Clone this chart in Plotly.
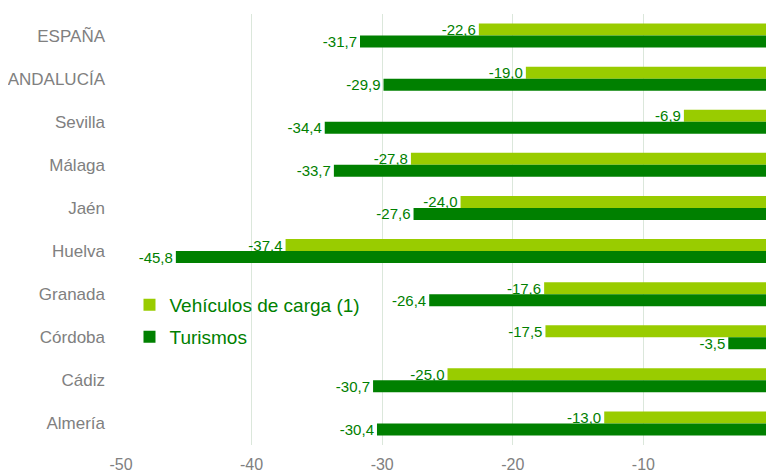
import plotly.graph_objects as go

categories = ["ESPAÑA", "ANDALUCÍA", "Sevilla", "Málaga", "Jaén", "Huelva",
              "Granada", "Córdoba", "Cádiz", "Almería"]
carga = [-22.6, -19.0, -6.9, -27.8, -24.0, -37.4, -17.6, -17.5, -25.0, -13.0]
turismos = [-31.7, -29.9, -34.4, -33.7, -27.6, -45.8, -26.4, -3.5, -30.7, -30.4]
tick_vals = [-50, -40, -30, -20, -10, 0]
tick_text = ["-50", "-40", "-30", "-20", "-10", "0"]

LIGHT = "#99cc00"
DARK = "#008000"
FONT = "Liberation Sans, Arial, sans-serif"


def fmt(v):
    return f"{v:.1f}".replace(".", ",")


fig = go.Figure()
fig.add_trace(go.Bar(
    y=categories, x=carga, orientation="h", name="Vehículos de carga (1)",
    marker=dict(color=LIGHT, line=dict(width=0)),
    text=[fmt(v) for v in carga], textposition="outside", constraintext="none",
    textfont=dict(color=DARK, size=15, family=FONT), cliponaxis=False,
    legend="legend",
))
fig.add_trace(go.Bar(
    y=categories, x=turismos, orientation="h", name="Turismos",
    marker=dict(color=DARK, line=dict(width=0)),
    text=[fmt(v) for v in turismos], textposition="outside", constraintext="none",
    textfont=dict(color=DARK, size=15, family=FONT), cliponaxis=False,
    legend="legend2",
))

legend_common = dict(
    xanchor="left", yanchor="middle",
    font=dict(size=19, color=DARK, family=FONT),
    bgcolor="rgba(0,0,0,0)", itemwidth=30,
)

# page body has an 8px default margin, so the figure is offset by 8px
fig.update_layout(
    width=766, height=464,
    margin=dict(l=113, r=0, t=6, b=27, autoexpand=False),
    paper_bgcolor="white", plot_bgcolor="white",
    barmode="group", bargap=0.443, bargroupgap=0,
    font=dict(family=FONT, color="#808080"),
    showlegend=True,
    legend=dict(x=0.013, y=(445 - 305) / 431, **legend_common),
    legend2=dict(x=0.013, y=(445 - 337) / 431, **legend_common),
    xaxis=dict(
        range=[-50, 0], tickvals=tick_vals, ticktext=tick_text,
        showgrid=True, gridcolor="#dbe7db", gridwidth=1,
        zeroline=False, showline=False, ticks="", automargin=False,
        ticklabeloverflow="allow", ticklabelstandoff=8,
        tickfont=dict(size=16, color="#808080", family=FONT),
    ),
    yaxis=dict(
        autorange="reversed", showgrid=False, zeroline=False, showline=False,
        ticks="", ticklabelstandoff=15, automargin=False,
        tickfont=dict(size=17, color="#808080", family=FONT),
    ),
)

fig.write_html("out.html")
